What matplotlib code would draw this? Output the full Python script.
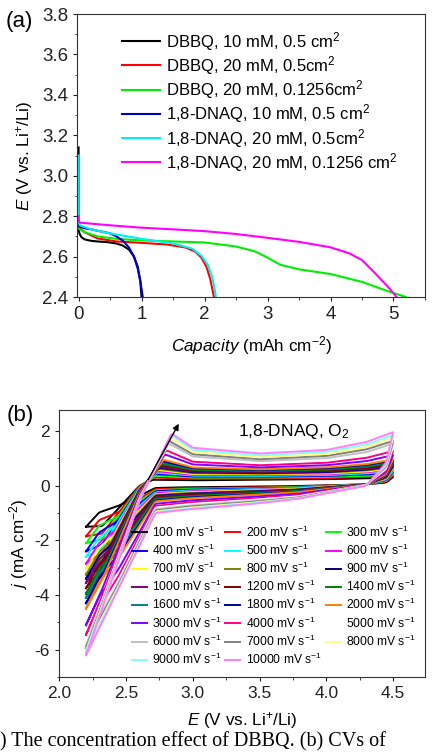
import numpy as np
import matplotlib
matplotlib.use("Agg")
import matplotlib.pyplot as plt
from matplotlib.ticker import MultipleLocator

plt.rcParams['font.family'] = 'Liberation Sans'
plt.rcParams['mathtext.fontset'] = 'custom'
plt.rcParams['mathtext.rm'] = 'Liberation Sans'
plt.rcParams['mathtext.it'] = 'Liberation Sans:italic'
plt.rcParams['mathtext.bf'] = 'Liberation Sans:bold'
plt.rcParams['axes.unicode_minus'] = False

# ---- (a) discharge curves ----------------------------------------------------
labels_a = ['DBBQ, 10 mM, 0.5 cm$^2$', 'DBBQ, 20 mM, 0.5cm$^2$', 'DBBQ, 20 mM, 0.1256cm$^2$',
            '1,8-DNAQ, 10 mM, 0.5 cm$^2$', '1,8-DNAQ, 20 mM, 0.5cm$^2$', '1,8-DNAQ, 20 mM, 0.1256 cm$^2$']
colors_a = ['#000000', '#ff0000', '#00ee00', '#0000cc', '#00f0f0', '#ff00ff']

cap_dbbq10 = [0, 0, 0.02, 0.05, 0.1, 0.2, 0.3, 0.45, 0.6, 0.7, 0.8, 0.88, 0.94, 0.98, 1.0]
E_dbbq10 = [3.14, 2.73, 2.71, 2.695, 2.685, 2.678, 2.675, 2.672, 2.665, 2.655, 2.635, 2.60, 2.55, 2.48, 2.40]
cap_dbbq20 = [0, 0.1, 0.3, 0.6, 1.0, 1.4, 1.7, 1.85, 1.95, 2.03, 2.09, 2.13, 2.15]
E_dbbq20 = [2.745, 2.72, 2.69, 2.675, 2.668, 2.66, 2.645, 2.625, 2.595, 2.55, 2.49, 2.43, 2.40]
cap_dbbq20s = [0, 0.1, 0.3, 0.6, 1.0, 1.5, 2.0, 2.5, 2.8, 3.0, 3.2, 3.5, 4.0, 4.5, 4.9, 5.2]
E_dbbq20s = [2.74, 2.72, 2.70, 2.688, 2.68, 2.675, 2.67, 2.65, 2.626, 2.595, 2.56, 2.537, 2.514, 2.475, 2.43, 2.40]
cap_dnaq10 = [0, 0.1, 0.2, 0.3, 0.4, 0.5, 0.6, 0.7, 0.8, 0.88, 0.94, 0.98, 1.01, 1.02]
E_dnaq10 = [2.75, 2.74, 2.735, 2.728, 2.722, 2.715, 2.70, 2.68, 2.645, 2.60, 2.54, 2.48, 2.42, 2.40]
cap_dnaq20 = [0, 0, 0.02, 0.2, 0.5, 1.0, 1.5, 1.8, 1.95, 2.05, 2.12, 2.16, 2.18]
E_dnaq20 = [3.10, 2.77, 2.755, 2.735, 2.715, 2.688, 2.665, 2.64, 2.605, 2.56, 2.50, 2.44, 2.40]
cap_dnaq20s = [0, 0, 0.02, 0.5, 1.0, 1.5, 2.0, 2.5, 3.0, 3.5, 4.0, 4.3, 4.5, 4.7, 4.9, 5.05]
E_dnaq20s = [2.80, 2.78, 2.768, 2.755, 2.743, 2.735, 2.726, 2.712, 2.693, 2.673, 2.646, 2.616, 2.583, 2.52, 2.455, 2.40]

# ---- (b) CVs, values read per scan rate ---------------------------------------
rates = [100, 200, 300, 400, 500, 600, 700, 800, 900, 1000, 1200, 1400, 1600, 1800, 2000,
         3000, 4000, 5000, 6000, 7000, 8000, 9000, 10000]
colors_b = ['#000000', '#ff0000', '#00ff00', '#0000ff', '#00ffff', '#ff00ff', '#ffff00', '#808000',
            '#000080', '#800080', '#800000', '#008000', '#008080', '#0000a0', '#ff8000', '#8000ff',
            '#ff0080', '#ffffff', '#c0c0c0', '#808080', '#ffff80', '#80ffff', '#ff80ff']

# forward sweep (2.2 -> 4.5 V)
j_start = [-1.50, -1.85, -2.10, -2.40, -2.60, -2.85, -3.05, -3.25, -3.40, -3.55, -3.75, -3.95,
           -4.10, -4.30, -4.50, -5.10, -5.45, -5.70, -5.85, -5.95, -6.05, -6.10, -6.20]
j_f232 = [-1.48, -1.75, -1.95, -2.15, -2.28, -2.45, -2.58, -2.70, -2.80, -2.88, -3.00, -3.12,
          -3.20, -3.32, -3.45, -3.80, -4.05, -4.20, -4.30, -4.35, -4.40, -4.45, -4.50]
j_f26 = [0.00, -0.02, -0.04, -0.06, -0.08, -0.10, -0.12, -0.14, -0.16, -0.18, -0.20, -0.22,
         -0.24, -0.26, -0.28, -0.35, -0.40, -0.44, -0.47, -0.50, -0.52, -0.54, -0.55]
E_peak = [2.70, 2.71, 2.72, 2.72, 2.73, 2.73, 2.74, 2.74, 2.75, 2.75, 2.76, 2.76,
          2.77, 2.77, 2.78, 2.79, 2.80, 2.81, 2.82, 2.82, 2.83, 2.84, 2.84]
j_peak = [0.22, 0.30, 0.37, 0.43, 0.48, 0.53, 0.58, 0.62, 0.66, 0.70, 0.75, 0.80,
          0.85, 0.90, 0.95, 1.15, 1.30, 1.43, 1.55, 1.65, 1.76, 1.85, 1.92]
j_f30 = [0.20, 0.25, 0.30, 0.34, 0.37, 0.40, 0.43, 0.46, 0.49, 0.52, 0.55, 0.58,
         0.61, 0.64, 0.67, 0.78, 0.88, 0.98, 1.07, 1.15, 1.24, 1.32, 1.39]
j_f35 = [0.22, 0.26, 0.30, 0.33, 0.36, 0.39, 0.42, 0.44, 0.46, 0.48, 0.51, 0.53,
         0.56, 0.58, 0.60, 0.67, 0.75, 0.83, 0.90, 0.97, 1.04, 1.11, 1.18]
j_f40 = [0.24, 0.28, 0.32, 0.36, 0.39, 0.42, 0.45, 0.48, 0.50, 0.53, 0.56, 0.59,
         0.62, 0.64, 0.67, 0.75, 0.84, 0.93, 1.01, 1.09, 1.16, 1.24, 1.31]
j_f43 = [0.27, 0.32, 0.36, 0.41, 0.45, 0.49, 0.52, 0.56, 0.59, 0.62, 0.66, 0.69,
         0.73, 0.76, 0.79, 0.90, 1.02, 1.13, 1.23, 1.33, 1.42, 1.51, 1.60]
j_end = [0.32, 0.38, 0.44, 0.50, 0.55, 0.60, 0.64, 0.68, 0.72, 0.76, 0.80, 0.84,
         0.88, 0.92, 0.96, 1.12, 1.27, 1.42, 1.54, 1.64, 1.76, 1.86, 1.96]
# reverse sweep (4.5 -> 2.2 V)
j_r445 = [0.12, 0.15, 0.18, 0.21, 0.23, 0.25, 0.27, 0.29, 0.31, 0.33, 0.35, 0.37,
          0.39, 0.41, 0.43, 0.50, 0.57, 0.63, 0.68, 0.73, 0.77, 0.81, 0.85]
j_r43 = [0.05, 0.05, 0.05, 0.05, 0.05, 0.05, 0.05, 0.05, 0.05, 0.05, 0.05, 0.04,
         0.04, 0.04, 0.04, 0.04, 0.03, 0.03, 0.03, 0.02, 0.02, 0.01, 0.00]
j_r38 = [-0.01, -0.03, -0.05, -0.07, -0.08, -0.10, -0.11, -0.13, -0.14, -0.16, -0.17, -0.19,
         -0.20, -0.22, -0.23, -0.29, -0.34, -0.38, -0.41, -0.43, -0.45, -0.46, -0.47]
j_r35 = [-0.03, -0.06, -0.08, -0.10, -0.12, -0.14, -0.16, -0.18, -0.20, -0.22, -0.24, -0.26,
         -0.28, -0.30, -0.32, -0.39, -0.45, -0.50, -0.54, -0.57, -0.60, -0.62, -0.64]
j_r30 = [-0.05, -0.08, -0.11, -0.14, -0.17, -0.20, -0.23, -0.26, -0.28, -0.31, -0.34, -0.37,
         -0.40, -0.42, -0.45, -0.53, -0.60, -0.66, -0.71, -0.75, -0.79, -0.82, -0.85]
j_r272 = [-0.08, -0.12, -0.16, -0.20, -0.24, -0.27, -0.31, -0.34, -0.37, -0.40, -0.44, -0.47,
          -0.51, -0.54, -0.57, -0.66, -0.74, -0.80, -0.86, -0.90, -0.94, -0.97, -1.00]
j_r245 = [-0.72, -0.95, -1.10, -1.25, -1.38, -1.52, -1.64, -1.76, -1.86, -1.96, -2.10, -2.24,
          -2.35, -2.48, -2.60, -3.00, -3.25, -3.40, -3.50, -3.56, -3.62, -3.66, -3.70]
j_r23 = [-0.97, -1.25, -1.45, -1.70, -1.88, -2.08, -2.25, -2.42, -2.55, -2.68, -2.85, -3.02,
         -3.16, -3.33, -3.50, -4.05, -4.42, -4.65, -4.80, -4.90, -5.00, -5.10, -5.20]


def smooth_branch(E_pts, j_pts, step=0.005, win=5):
    # draw the read anchor values as a smooth curve (rendering only)
    E_pts = np.asarray(E_pts, float)
    j_pts = np.asarray(j_pts, float)
    sgn = 1 if E_pts[-1] > E_pts[0] else -1
    grid = np.arange(E_pts[0], E_pts[-1] + sgn * step / 2, sgn * step)
    jj = np.interp(grid * sgn, E_pts * sgn, j_pts)
    pad = np.concatenate([np.full(win // 2, jj[0]), jj, np.full(win // 2, jj[-1])])
    js = np.convolve(pad, np.ones(win) / win, mode='valid')
    js[0], js[-1] = jj[0], jj[-1]
    return grid, js


fig = plt.figure(figsize=(4.33, 7.52), dpi=100)
ax1 = fig.add_axes([0.1785, 0.605, 0.803, 0.3763])
ax2 = fig.add_axes([0.137, 0.0997, 0.8446, 0.355])

# (a)
series_a = [(cap_dbbq10, E_dbbq10), (cap_dbbq20, E_dbbq20), (cap_dbbq20s, E_dbbq20s),
            (cap_dnaq10, E_dnaq10), (cap_dnaq20, E_dnaq20), (cap_dnaq20s, E_dnaq20s)]
for (c, e), col, lab in zip(series_a, colors_a, labels_a):
    ax1.plot(c, e, color=col, lw=1.5, label=lab)
ax1.set_xlim(-0.02, 5.5)
ax1.set_ylim(2.4, 3.8)
ax1.xaxis.set_major_locator(MultipleLocator(1))
ax1.xaxis.set_minor_locator(MultipleLocator(0.5))
ax1.yaxis.set_major_locator(MultipleLocator(0.2))
ax1.yaxis.set_minor_locator(MultipleLocator(0.1))
ax1.set_xlabel('$Capacity$ (mAh cm$^{-2}$)', fontsize=12.3, labelpad=8)
ax1.set_ylabel('$E$ (V vs. Li$^{+}$/Li)', fontsize=12.3, labelpad=5)
ax1.legend(loc='upper left', bbox_to_anchor=(0.108, 0.968), frameon=False, fontsize=12,
           handlelength=2.3, handletextpad=0.35, labelspacing=0.08, borderaxespad=0)
fig.text(0.012, 0.972, '(a)', fontsize=16, va='center')

# (b)
for i in range(len(rates)):
    Ef, jf = smooth_branch([2.2, 2.32, 2.6, E_peak[i], 3.0, 3.5, 4.0, 4.3, 4.5],
                           [j_start[i], j_f232[i], j_f26[i], j_peak[i], j_f30[i], j_f35[i],
                            j_f40[i], j_f43[i], j_end[i]])
    Er, jr = smooth_branch([4.5, 4.45, 4.3, 3.8, 3.5, 3.0, 2.72, 2.45, 2.3, 2.2],
                           [j_end[i], j_r445[i], j_r43[i], j_r38[i], j_r35[i], j_r30[i],
                            j_r272[i], j_r245[i], j_r23[i], j_start[i]])
    ax2.plot(np.concatenate([Ef, Er]), np.concatenate([jf, jr]), color=colors_b[i], lw=1.4,
             label=f'{rates[i]} mV s$^{{-1}}$')

ax2.annotate('', xy=(2.905, 2.36), xytext=(2.655, 0.13),
             arrowprops=dict(arrowstyle='-|>', color='black', lw=1.0, mutation_scale=9))
ax2.text(3.76, 2.0, '1,8-DNAQ, O$_2$', fontsize=12.5, ha='center', va='center')
ax2.set_xlim(2.0, 4.74)
ax2.set_ylim(-7, 2.77)
ax2.xaxis.set_major_locator(MultipleLocator(0.5))
ax2.xaxis.set_minor_locator(MultipleLocator(0.25))
ax2.yaxis.set_major_locator(MultipleLocator(2))
ax2.yaxis.set_minor_locator(MultipleLocator(1))
ax2.set_xlabel('$E$ (V vs. Li$^{+}$/Li)', fontsize=12.3, labelpad=6)
ax2.set_ylabel('$j$ (mA cm$^{-2}$)', fontsize=12.3, labelpad=3)

handles, labs = ax2.get_legend_handles_labels()
order = [k for c in range(3) for k in range(c, len(handles), 3)]
ax2.legend([handles[k] for k in order], [labs[k] for k in order], ncol=3, loc='upper left',
           bbox_to_anchor=(0.185, 0.59), frameon=False, fontsize=8.7, handlelength=1.25,
           handletextpad=0.45, columnspacing=0.3, labelspacing=0.25, borderaxespad=0)
fig.text(0.015, 0.448, '(b)', fontsize=16, va='center')

for ax, ls in ((ax1, 13.5), (ax2, 12.5)):
    ax.tick_params(which='both', direction='out', top=False, right=False, labelsize=ls,
                   colors='#222222')
    ax.tick_params(which='major', length=3.2)
    ax.tick_params(which='minor', length=1.8)
    for s in ax.spines.values():
        s.set_color('#333333')

fig.text(0.0, 0.001, ') The concentration effect of DBBQ. (b) CVs of',
         family='Liberation Serif', fontsize=14.5, va='bottom')

fig.savefig('out.png', dpi=100)
